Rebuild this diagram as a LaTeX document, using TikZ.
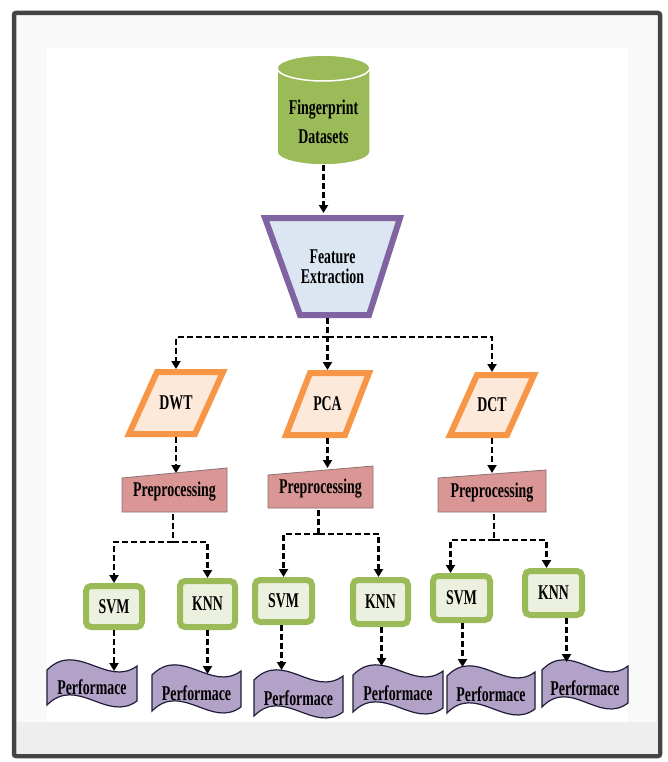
\documentclass[tikz,border=0pt]{standalone}
\usepackage{fontspec}
\newfontfamily\lblfont[FakeStretch=0.66]{Liberation Serif}
\usetikzlibrary{arrows.meta,calc}
\definecolor{frameline}{HTML}{444444}
\definecolor{framebg}{HTML}{F9F9F9}
\definecolor{framelow}{HTML}{EEEEEE}
\definecolor{cylgreen}{HTML}{9BBB59}
\definecolor{trapline}{HTML}{8064A2}
\definecolor{trapfill}{HTML}{DCE6F2}
\definecolor{paraline}{HTML}{F79646}
\definecolor{parafill}{HTML}{FDE9D9}
\definecolor{prefill}{HTML}{D99694}
\definecolor{preline}{HTML}{8A7070}
\definecolor{boxline}{HTML}{9BBB59}
\definecolor{boxfill}{HTML}{EBF1DE}
\definecolor{perffill}{HTML}{B3A2C7}
\definecolor{perfline}{HTML}{1E1E3A}
\tikzset{
  lbl/.style={font=\lblfont\bfseries\fontsize{21}{23}\selectfont, text=black, inner sep=0pt, outer sep=0pt, align=center},
  conn/.style={draw=black, line width=2.3pt, dash pattern=on 6pt off 3pt, -{Triangle[length=8pt,width=9pt]}},
  dline/.style={draw=black, line width=2.3pt, dash pattern=on 6pt off 3pt},
  parashape/.style={draw=paraline, fill=parafill, line width=6pt, line join=miter},
  preshape/.style={draw=preline, fill=prefill, line width=0.8pt},
  perfshape/.style={draw=perfline, fill=perffill, line width=1.2pt},
  mlbox/.style={lbl, draw=boxline, fill=boxfill, line width=6pt, rounded corners=5pt, outer sep=3pt},
}
% name, l, t, r, b, slant, text
\newcommand\paranode[7]{%
  \draw[parashape] ({#2+#6+3},{#3+3}) -- ({#4-3},{#3+3}) -- ({#4-#6-3},{#5-3}) -- ({#2+3},{#5-3}) -- cycle;
  \node[lbl, minimum width={#4-#2}, minimum height={#5-#3}] (#1) at ({(#2+#4)/2},{(#3+#5)/2}) {#7};}
% name, l, tl, tr, r, b, text
\newcommand\prenode[7]{%
  \draw[preshape] (#2,#3) -- (#5,#4) -- (#5,#6) -- (#2,#6) -- cycle;
  \node[lbl, minimum width={#5-#2}, minimum height={#6-#4}] (#1) at ({(#2+#5)/2},{(#4+#6)/2+2}) {#7};}
% name, l, r, t, h, text
\newcommand\perfnode[6]{%
  \draw[perfshape] (#2,#4) .. controls ({#2+(#3-#2)/3},{#4-30}) and ({#2+2*(#3-#2)/3},{#4+18}) .. (#3,{#4-4})
    -- (#3,{#4-4+#5}) .. controls ({#2+2*(#3-#2)/3},{#4+18+#5}) and ({#2+(#3-#2)/3},{#4-30+#5}) .. (#2,{#4+#5}) -- cycle;
  \node[lbl, minimum width={#3-#2}, minimum height={#5}] (#1) at ({(#2+#3)/2},{#4+#5/2}) {#6};}
% name, cx, cy, w, h, text
\newcommand\mlnode[6]{%
  \node[mlbox, minimum width={#4-6}, minimum height={#5-6}] (#1) at (#2,#3) {#6};}
\begin{document}
\begin{tikzpicture}[x=1pt,y=-1pt]
\useasboundingbox (0,0) rectangle (667,762);
% frame
\fill[white] (0,0) rectangle (667,762);
\draw[frameline, fill=framebg, line width=4.5pt, rounded corners=2pt] (14,13) rectangle (660,756);
\fill[framelow] (16.5,722) rectangle (657.5,753.5);
\fill[white] (47,48) rectangle (628,722);

% dataset cylinder
\draw[fill=cylgreen, draw=white, line width=1.5pt]
  (277,68) -- (277,152) arc[start angle=180, end angle=360, x radius=46.5pt, y radius=13pt]
  -- (370,68) arc[start angle=0, end angle=180, x radius=46.5pt, y radius=13pt] -- cycle;
\draw[draw=white, line width=1.5pt] (323.5,68) ellipse [x radius=46.5pt, y radius=13pt];
\node[lbl, minimum width=93, minimum height=86] (ds) at (323.5,122) {Fingerprint\\[6pt]Datasets};

% feature extraction
\draw[draw=trapline, fill=trapfill, line width=6pt] (265,218) -- (400,218) -- (369,315) -- (300,315) -- cycle;
\node[lbl, minimum width=141, minimum height=103] (fe) at (332.5,266.5) {Feature\\[-3pt]Extraction};

% transforms
\paranode{dwt}{126}{369}{226}{437}{28}{DWT}
\paranode{pca}{283}{370}{372}{438}{24}{PCA}
\paranode{dct}{447}{372}{537}{438}{27}{DCT}

% preprocessing
\prenode{pre1}{122}{478}{468}{227}{512}{Preprocessing}
\prenode{pre2}{268}{475}{466}{373}{508}{Preprocessing}
\prenode{pre3}{438}{478}{470}{546}{512}{Preprocessing}

% classifiers
\mlnode{s1}{114}{606.5}{62}{47}{SVM}
\mlnode{k1}{207.5}{604}{61}{52}{KNN}
\mlnode{s2}{283.5}{601}{63}{48}{SVM}
\mlnode{k2}{380.5}{602}{61}{50}{KNN}
\mlnode{s3}{461.5}{598}{63}{50}{SVM}
\mlnode{k3}{553.5}{593}{63}{50}{KNN}

% performance
\perfnode{p1}{47}{137}{670}{35}{Performace}
\perfnode{p2}{152}{241}{675}{36}{Performace}
\perfnode{p3}{254}{343}{680}{36}{Performace}
\perfnode{p4}{353}{443}{675}{37}{Performace}
\perfnode{p5}{447}{535}{676}{37}{Performace}
\perfnode{p6}{542}{628}{670}{37}{Performace}

% connectors
\draw[conn] (ds.south) -- ($(ds.south |- fe.north)+(0,-2)$);
\coordinate (j1) at ($(pca.north |- fe.south)+(0,19)$);
\draw[conn] (pca.north |- fe.south) -- (pca.north);
\draw[conn] (j1) -| (dwt.north);
\draw[conn] (j1) -| (dct.north);

\draw[conn] (dwt.south) -- ($(dwt.south |- pre1.north)+(0,3)$);
\draw[conn] (pca.south) -- ($(pca.south |- pre2.north)+(0,0)$);
\draw[conn] (dct.south) -- ($(dct.south |- pre3.north)+(0,1)$);

\coordinate (j2) at ($(pre1.south)+(-1.5,28)$);
\draw[dline] ($(pre1.south)+(-1.5,0)$) -- (j2);
\draw[conn] (j2) -| (s1.north);
\draw[conn] (j2) -| (k1.north);

\coordinate (j3) at ($(pre2.south)+(-2,24)$);
\draw[dline] ($(pre2.south)+(-2,0)$) -- (j3);
\draw[conn] (j3) -| (s2.north);
\draw[conn] (j3) -| ($(k2.north)+(-2,0)$);

\coordinate (j4) at ($(pre3.south)+(2,26)$);
\draw[dline] ($(pre3.south)+(2,0)$) -- (j4);
\draw[conn] (j4) -| ($(s3.north)+(-11,0)$);
\draw[conn] (j4) -| ($(k3.north)+(-7,0)$);

\draw[conn] (s1.south) -- ($(s1.south |- p1.north)+(0,1)$);
\draw[conn] (k1.south) -- ($(k1.south |- p2.north)+(0,-1)$);
\draw[conn] ($(s2.south)+(-2,0)$) -- ($(s2.south |- p3.north)+(-2,-10)$);
\draw[conn] ($(k2.south)+(1,0)$) -- ($(k2.south |- p4.north)+(1,-9)$);
\draw[conn] ($(s3.south)+(1,0)$) -- ($(s3.south |- p5.north)+(1,-9)$);
\draw[conn] ($(k3.south)+(13,0)$) -- ($(k3.south |- p6.north)+(13,-8)$);
\end{tikzpicture}
\end{document}
